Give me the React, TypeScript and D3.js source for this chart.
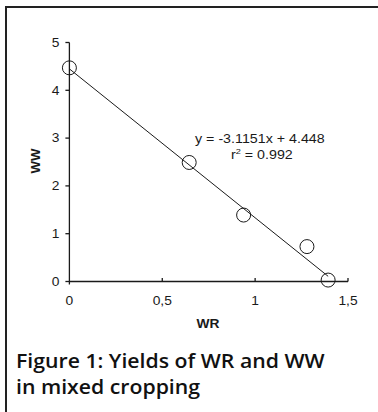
import React from "react";
import * as d3 from "d3";

// Yields in mixed cropping: WR on the x axis, WW on the y axis
const wr = [0, 0.645, 0.938, 1.279, 1.393];
const ww = [4.47, 2.49, 1.39, 0.73, 0.03];

const xTicks = [0, 0.5, 1, 1.5];
const xTickLabels = ["0", "0,5", "1", "1,5"];
const yTicks = [0, 1, 2, 3, 4, 5];

const slope = -3.1151;
const intercept = 4.448;
const r2 = 0.992;

const captionLines = ["Figure 1: Yields of WR and WW", "in mixed cropping"];

const W = 378;
const H = 412;

const x = d3.scaleLinear().domain([0, 1.5]).range([69.4, 348]);
const y = d3.scaleLinear().domain([0, 5]).range([281.5, 42.5]);

const ink = "#1a1a1a";
const sans = "'Liberation Sans', Arial, sans-serif";
const sx = 1.15; // axis text is set slightly wide

function WideText(props: {
  x: number;
  y: number;
  anchor?: string;
  size: number;
  weight?: string | number;
  children: React.ReactNode;
}) {
  return (
    <g transform={`translate(${props.x},${props.y}) scale(${sx},1)`}>
      <text
        x={0}
        y={0}
        textAnchor={props.anchor || "start"}
        fontFamily={sans}
        fontSize={props.size}
        fontWeight={props.weight || "normal"}
        fill={ink}
      >
        {props.children}
      </text>
    </g>
  );
}

export default function App() {
  const xMin = d3.min(wr) as number;
  const xMax = d3.max(wr) as number;
  const fit = d3
    .line<number>()
    .x((d) => x(d))
    .y((d) => y(slope * d + intercept));

  const x0 = x(0);
  const y0 = y(0);

  return (
    <svg
      width={W}
      height={H}
      style={{ position: "absolute", left: 0, top: 0, background: "#fff" }}
    >
      {/* frame */}
      <path d={`M6,${H} L6,7 L${W},7`} fill="none" stroke="#222" strokeWidth={2} />

      {/* y axis */}
      <line x1={x0} x2={x0} y1={y(5)} y2={y0 + 3} stroke={ink} strokeWidth={1.3} />
      {yTicks.map((t) => (
        <g key={"y" + t}>
          <line x1={x0 - 4} x2={x0} y1={y(t)} y2={y(t)} stroke={ink} strokeWidth={1.3} />
          <WideText x={x0 - 10} y={y(t) + 4.3} anchor="end" size={12}>
            {t}
          </WideText>
        </g>
      ))}

      {/* x axis */}
      <line x1={x0} x2={x(1.5)} y1={y0} y2={y0} stroke={ink} strokeWidth={1.3} />
      {xTicks.map((t, i) => (
        <g key={"x" + t}>
          {t > 0 && (
            <line x1={x(t)} x2={x(t)} y1={y0 - 3.5} y2={y0} stroke={ink} strokeWidth={1.3} />
          )}
          <WideText x={x(t)} y={305} anchor="middle" size={12}>
            {xTickLabels[i]}
          </WideText>
        </g>
      ))}

      {/* trend line */}
      <path d={fit([xMin, xMax]) || ""} fill="none" stroke={ink} strokeWidth={1} />

      {/* observations */}
      {wr.map((d, i) => (
        <circle
          key={"p" + i}
          cx={x(d)}
          cy={y(ww[i])}
          r={7}
          fill="none"
          stroke={ink}
          strokeWidth={1}
        />
      ))}

      {/* regression label */}
      <WideText x={195} y={143} size={12.4}>
        {`y = ${slope}x + ${intercept}`}
      </WideText>
      <WideText x={231} y={159} size={12.4}>
        r<tspan fontSize={8} dy={-5}>2</tspan>
        <tspan dy={5}>{` = ${r2}`}</tspan>
      </WideText>

      {/* axis titles */}
      <g transform={`translate(40,161) rotate(-90)`}>
        <text
          textAnchor="middle"
          fontFamily={sans}
          fontSize={12}
          fontWeight="bold"
          fill={ink}
          transform={`scale(1.1,1)`}
        >
          WW
        </text>
      </g>
      <WideText x={208} y={328} anchor="middle" size={12} weight="bold">
        WR
      </WideText>

      {/* caption */}
      {captionLines.map((line, i) => (
        <g key={"c" + i} transform={`translate(16,${368 + i * 26}) scale(1.09,1)`}>
          <text
            x={0}
            y={0}
            fontFamily="'Open Sans', 'Noto Sans', sans-serif"
            fontWeight={600}
            fontSize={19.5}
            fill="#111"
          >
            {line}
          </text>
        </g>
      ))}
    </svg>
  );
}
